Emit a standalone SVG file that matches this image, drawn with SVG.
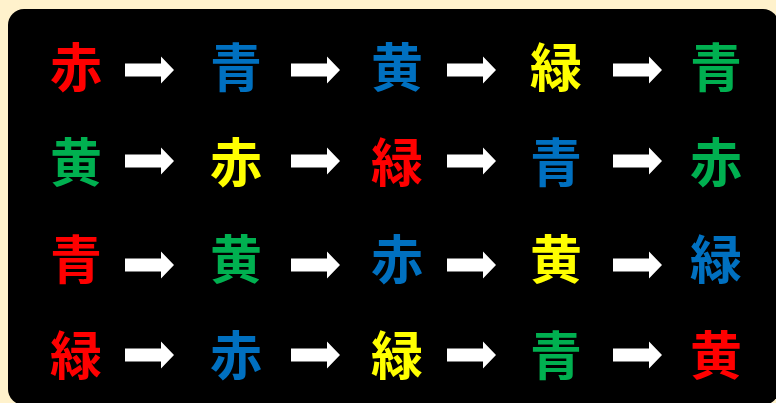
<svg xmlns="http://www.w3.org/2000/svg" width="776" height="403" viewBox="0 0 776 403">
<defs>
<style>
.k{font-family:"Noto Sans CJK JP","Noto Sans CJK SC",sans-serif;font-size:52px;font-weight:bold;text-anchor:middle}
.r{fill:#FF0000}.b{fill:#0070C0}.y{fill:#FFFF00}.g{fill:#00B050}
.a{fill:#FFFFFF}
</style>
<path id="arr" d="M0,-6.5 H36 V-13.5 L49,0 L36,13.5 V6.5 H0 Z"/>
</defs>
<rect x="0" y="0" width="776" height="403" fill="#FFF2CC"/>
<rect x="8" y="9" width="771" height="396" rx="16" fill="#000000"/>
<g id="connectors" class="a">
<use href="#arr" x="125" y="70"/><use href="#arr" x="291" y="70"/><use href="#arr" x="447" y="70"/><use href="#arr" x="613" y="70"/>
<use href="#arr" x="125" y="161"/><use href="#arr" x="291" y="161"/><use href="#arr" x="447" y="161"/><use href="#arr" x="613" y="161"/>
<use href="#arr" x="125" y="265"/><use href="#arr" x="291" y="265"/><use href="#arr" x="447" y="265"/><use href="#arr" x="613" y="265"/>
<use href="#arr" x="125" y="355"/><use href="#arr" x="291" y="355"/><use href="#arr" x="447" y="355"/><use href="#arr" x="613" y="355"/>
</g>
<g id="r1c1"><text class="k r" x="76" y="87">赤</text></g>
<g id="r1c2"><text class="k b" x="236" y="87">青</text></g>
<g id="r1c3"><text class="k b" x="397" y="87">黄</text></g>
<g id="r1c4"><text class="k y" x="556" y="87">緑</text></g>
<g id="r1c5"><text class="k g" x="716" y="87">青</text></g>
<g id="r2c1"><text class="k g" x="76" y="182">黄</text></g>
<g id="r2c2"><text class="k y" x="236" y="182">赤</text></g>
<g id="r2c3"><text class="k r" x="397" y="182">緑</text></g>
<g id="r2c4"><text class="k b" x="556" y="182">青</text></g>
<g id="r2c5"><text class="k g" x="716" y="182">赤</text></g>
<g id="r3c1"><text class="k r" x="76" y="279">青</text></g>
<g id="r3c2"><text class="k g" x="236" y="279">黄</text></g>
<g id="r3c3"><text class="k b" x="397" y="279">赤</text></g>
<g id="r3c4"><text class="k y" x="556" y="279">黄</text></g>
<g id="r3c5"><text class="k b" x="716" y="279">緑</text></g>
<g id="r4c1"><text class="k r" x="76" y="375">緑</text></g>
<g id="r4c2"><text class="k b" x="236" y="375">赤</text></g>
<g id="r4c3"><text class="k y" x="397" y="375">緑</text></g>
<g id="r4c4"><text class="k g" x="556" y="375">青</text></g>
<g id="r4c5"><text class="k r" x="716" y="375">黄</text></g>
</svg>
